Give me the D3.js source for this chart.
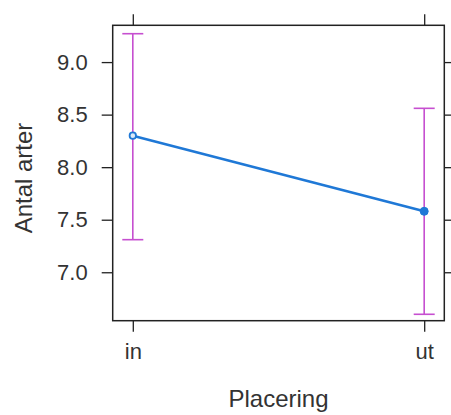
<!DOCTYPE html>
<html>
<head>
<meta charset="utf-8">
<script src="https://cdn.jsdelivr.net/npm/d3@7"></script>
<style>
  body { margin: 0; background: #fff; }
  text { font-family: "Liberation Sans", Arial, sans-serif; fill: #333; }
</style>
</head>
<body>
<script>
// data
var categories = ['in', 'ut'];
var fitValues = [8.30, 7.58];
var lowerValues = [7.31, 6.60];
var upperValues = [9.27, 8.56];
var yTicks = [7.0, 7.5, 8.0, 8.5, 9.0];

var width = 451,
    height = 415,
    panelLeft = 112.7,
    panelRight = 444.3,
    panelTop = 25.3,
    panelBottom = 320.7,
    tickLen = 11,
    capHalf = 10.5;

var rows = categories.map(function(c, i) {
  return {cat: c, fit: fitValues[i], lo: lowerValues[i], hi: upperValues[i]};
});

var svg = d3.select('body')
  .append('svg')
    .attr('width', width)
    .attr('height', height);

var x = d3.scalePoint()
  .domain(categories)
  .range([panelLeft, panelRight])
  .padding(0.069);

var y = d3.scaleLinear()
  .domain([6.539, 9.35])
  .range([panelBottom, panelTop]);

// axes: labels on left/bottom, bare ticks on top/right (lattice style)
var gLeft = svg.append('g')
  .attr('transform', 'translate(' + panelLeft + ',0)')
  .call(d3.axisLeft(y).tickValues(yTicks).tickFormat(d3.format('.1f')).tickSize(tickLen).tickPadding(14));

var gRight = svg.append('g')
  .attr('transform', 'translate(' + panelRight + ',0)')
  .call(d3.axisRight(y).tickValues(yTicks).tickFormat('').tickSize(tickLen));

var gBottom = svg.append('g')
  .attr('transform', 'translate(0,' + panelBottom + ')')
  .call(d3.axisBottom(x).tickSize(tickLen).tickPadding(12));

var gTop = svg.append('g')
  .attr('transform', 'translate(0,' + panelTop + ')')
  .call(d3.axisTop(x).tickFormat('').tickSize(tickLen));

[gLeft, gRight, gBottom, gTop].forEach(function(g) {
  g.select('.domain').remove();
  g.selectAll('.tick line').attr('stroke', '#222').attr('stroke-width', 1.3);
  g.selectAll('.tick text')
    .attr('font-family', '"Liberation Sans", Arial, sans-serif')
    .attr('font-size', 22)
    .attr('fill', '#333');
});

gBottom.selectAll('.tick text').attr('dy', '0.71em');

svg.append('rect')
  .attr('x', panelLeft)
  .attr('y', panelTop)
  .attr('width', panelRight - panelLeft)
  .attr('height', panelBottom - panelTop)
  .attr('fill', 'none')
  .attr('stroke', '#222')
  .attr('stroke-width', 1.5);

// confidence bars
var bars = svg.selectAll('.ci')
    .data(rows)
    .enter()
  .append('g')
    .attr('class', 'ci')
    .attr('stroke', '#c64fd0')
    .attr('stroke-width', 1.6);

bars.append('line')
  .attr('x1', function(d) { return x(d.cat); })
  .attr('x2', function(d) { return x(d.cat); })
  .attr('y1', function(d) { return y(d.lo); })
  .attr('y2', function(d) { return y(d.hi); });

bars.append('line')
  .attr('x1', function(d) { return x(d.cat) - capHalf; })
  .attr('x2', function(d) { return x(d.cat) + capHalf; })
  .attr('y1', function(d) { return y(d.hi); })
  .attr('y2', function(d) { return y(d.hi); });

bars.append('line')
  .attr('x1', function(d) { return x(d.cat) - capHalf; })
  .attr('x2', function(d) { return x(d.cat) + capHalf; })
  .attr('y1', function(d) { return y(d.lo); })
  .attr('y2', function(d) { return y(d.lo); });

// fitted line
var line = d3.line()
  .x(function(d) { return x(d.cat); })
  .y(function(d) { return y(d.fit); });

svg.append('path')
  .datum(rows)
  .attr('d', line)
  .attr('fill', 'none')
  .attr('stroke', '#1f78d6')
  .attr('stroke-width', 2.6);

svg.selectAll('.pt')
    .data(rows)
    .enter()
  .append('circle')
    .attr('class', 'pt')
    .attr('cx', function(d) { return x(d.cat); })
    .attr('cy', function(d) { return y(d.fit); })
    .attr('r', function(d, i) { return i === 0 ? 3.2 : 4; })
    .attr('fill', function(d, i) { return i === 0 ? '#dbe9f8' : '#1f78d6'; })
    .attr('stroke', '#1f78d6')
    .attr('stroke-width', function(d, i) { return i === 0 ? 1.8 : 1; });

// axis titles
svg.append('text')
  .attr('x', (panelLeft + panelRight) / 2)
  .attr('y', 407)
  .attr('text-anchor', 'middle')
  .attr('font-size', 24)
  .text('Placering');

svg.append('text')
  .attr('transform', 'translate(32,178) rotate(-90)')
  .attr('text-anchor', 'middle')
  .attr('font-size', 24)
  .text('Antal arter');
</script>
</body>
</html>
